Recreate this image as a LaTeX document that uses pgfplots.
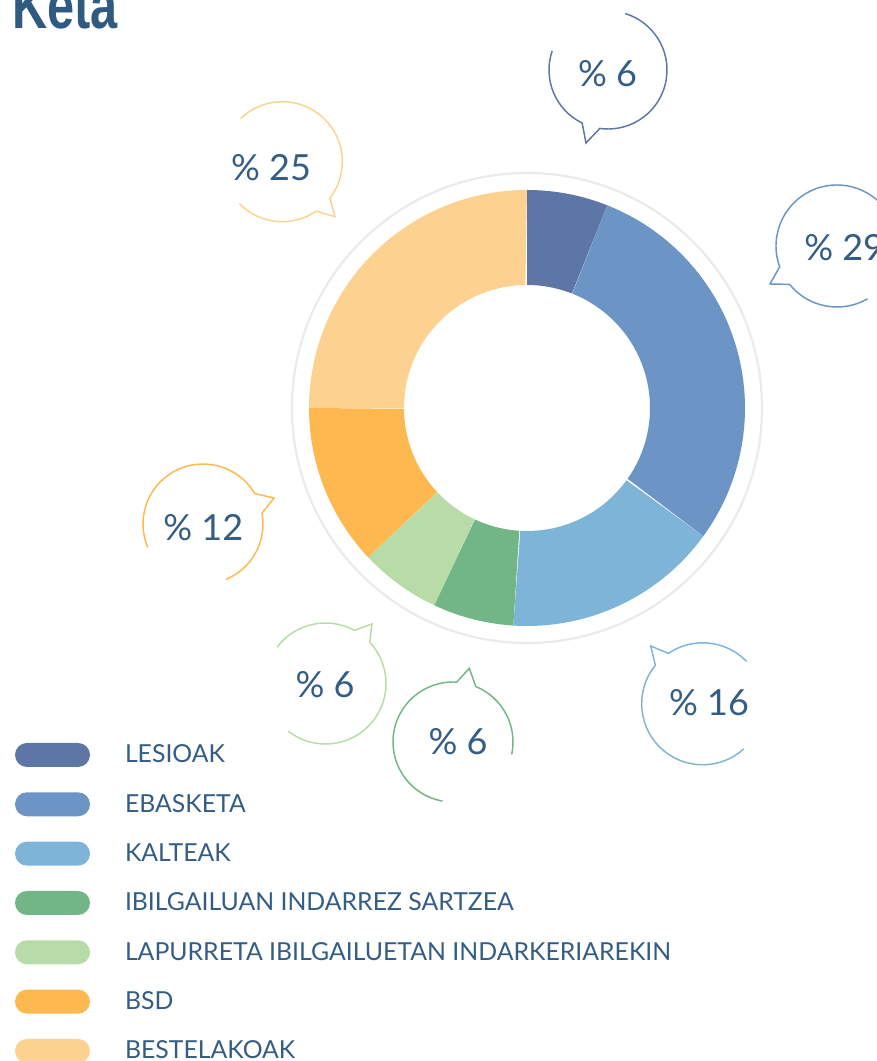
\documentclass[border=0pt]{standalone}
\usepackage{fontspec}
\setmainfont{Lato}
\newfontfamily\titlefont{Liberation Sans}
\usepackage{pgfplots}
\pgfplotsset{compat=1.18}
\usetikzlibrary{calc}
\definecolor{cLes}{HTML}{5E76A6}
\definecolor{cEba}{HTML}{6C95C5}
\definecolor{cKal}{HTML}{7FB4D9}
\definecolor{cIbi}{HTML}{72B688}
\definecolor{cLap}{HTML}{B8DCA8}
\definecolor{cBSD}{HTML}{FDB84F}
\definecolor{cBes}{HTML}{FDD291}
\definecolor{ringgray}{HTML}{EBEBEB}
\definecolor{txtblue}{HTML}{345D85}
\definecolor{titleblue}{HTML}{2F5B82}

% running total of the shares (percent)
\gdef\cum{0}
% #1 value (percent), #2 colour, #3 legend text
\newcommand\sector[3]{%
  \pgfmathsetmacro\sA{\cum}%
  \pgfmathsetmacro\sB{\cum+#1}%
  \xdef\cum{\sB}%
  \edef\doplot{\noexpand\addplot[fill=#2, draw=none, variable=\noexpand\t, domain=0:2, samples=241]
    ({527+(\noexpand\t<=1 ? 218 : 123)*cos(90-3.6*(\noexpand\t<=1 ? \sA+(\sB-\sA)*\noexpand\t : \sB-(\sB-\sA)*(\noexpand\t-1)))},
     {653+(\noexpand\t<=1 ? 218 : 123)*sin(90-3.6*(\noexpand\t<=1 ? \sA+(\sB-\sA)*\noexpand\t : \sB-(\sB-\sA)*(\noexpand\t-1)))});}%
  \doplot
  \addlegendentry{#3}%
}
% speech bubble: #1 cx, #2 cy, #3 r, #4 a0, #5 a1, #6 tip, #7 a2, #8 a3, #9 colour
\newcommand\bubble[9]{%
  \draw[#9, line width=1.1pt, line join=miter]
    ($(axis cs:#1,#2)+(#4:{#3*0.75pt})$) arc[start angle=#4, end angle=#5, radius={#3*0.75pt}]
    -- (axis cs:#6)
    -- ($(axis cs:#1,#2)+(#7:{#3*0.75pt})$) arc[start angle=#7, end angle=#8, radius={#3*0.75pt}];
}
\newcommand\pct[1]{\fontsize{27}{27}\selectfont\%~#1}

\begin{document}
\begin{tikzpicture}
\path[use as bounding box, clip] (0,0) rectangle (657.75pt,795.75pt);
\begin{axis}[
  at={(0,0)}, anchor=south west,
  scale only axis, width=657.75pt, height=795.75pt,
  xmin=0, xmax=877, ymin=0, ymax=1061,
  hide axis, clip=false,
  legend cell align=left,
  legend style={at={(axis description cs:0.017104,0.31169)}, anchor=north west,
    draw=none, fill=none, inner sep=0pt, outer sep=0pt,
    row sep=0pt, column sep=0pt,
    nodes={inner sep=0pt, text=txtblue, font=\fontsize{18.6}{18.6}\selectfont}},
  legend image code/.code={%
    \path[fill, draw=none, rounded corners=9pt] (0pt,-9pt) rectangle (56.25pt,9pt);
    \path (0pt,-18.5pt) (82.5pt,18.5pt);},
]
\draw[ringgray, line width=1.7pt] (axis cs:527,653) circle[radius=176.25pt];
\sector{6}{cLes}{LESIOAK}
\sector{29}{cEba}{EBASKETA}
\sector{16}{cKal}{KALTEAK}
\sector{6}{cIbi}{IBILGAILUAN INDARREZ SARTZEA}
\sector{6}{cLap}{LAPURRETA IBILGAILUETAN INDARKERIAREKIN}
\sector{12}{cBSD}{BSD}
\sector{25}{cBes}{BESTELAKOAK}

\bubble{608}{991}{59}{161}{244}{586,918}{262}{433}{cLes}
\bubble{837}{815}{61}{20}{200}{770,777}{219}{300}{cEba}
\bubble{282.3}{899.3}{60}{224.5}{304.5}{335,844.3}{322.5}{494}{cBes}
\bubble{203}{537}{60}{-67.5}{10.4}{274,563}{30.5}{203}{cBSD}
\bubble{325.5}{377.5}{60.5}{-128}{43}{372,437}{61.5}{143}{cLap}
\bubble{453}{319}{60}{-12}{67.7}{469.3,392.7}{86.5}{260}{cIbi}
\bubble{702.7}{357.2}{61}{44}{124.3}{650.7,415}{140.9}{312.3}{cKal}

\node[text=txtblue, inner sep=0pt] at (axis cs:607.5,987) {\pct{6}};
\node[text=txtblue, inner sep=0pt, anchor=west] at (axis cs:804,813) {\pct{29}};
\node[text=txtblue, inner sep=0pt] at (axis cs:271,893) {\pct{25}};
\node[text=txtblue, inner sep=0pt] at (axis cs:203.3,533.5) {\pct{12}};
\node[text=txtblue, inner sep=0pt] at (axis cs:325,376) {\pct{6}};
\node[text=txtblue, inner sep=0pt] at (axis cs:458,319) {\pct{6}};
\node[text=txtblue, inner sep=0pt] at (axis cs:709,358) {\pct{16}};

\node[anchor=base west, inner sep=0pt, text=titleblue] at (axis cs:12,1032)
  {\scalebox{0.745}[1]{\titlefont\fontsize{49}{49}\selectfont\bfseries Keta}};
\end{axis}
\end{tikzpicture}
\end{document}
